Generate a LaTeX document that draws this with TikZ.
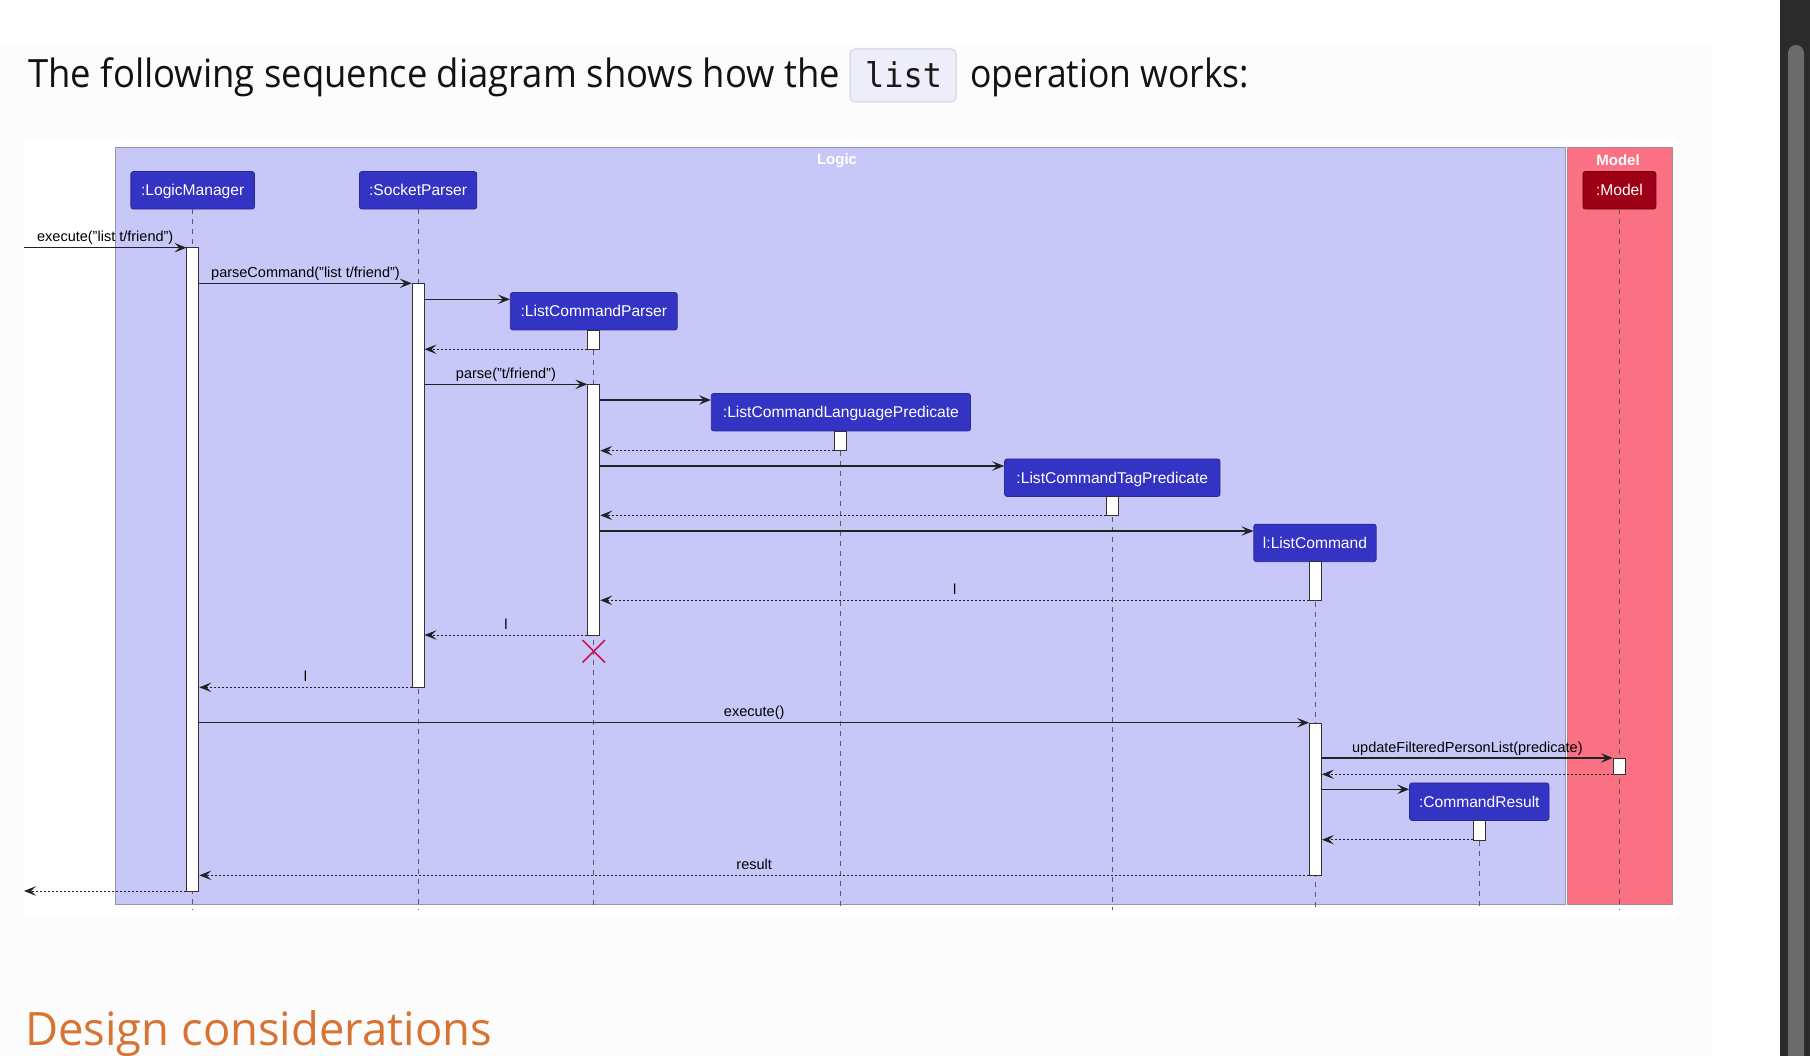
\documentclass[tikz,border=0pt]{standalone}
\usepackage{fontspec}
\setmainfont{Liberation Sans}
\newfontfamily\titlefonta[FakeStretch=0.935]{Open Sans}
\newfontfamily\titlefont[FakeStretch=0.91]{Open Sans}
\newfontfamily\headfont[FakeStretch=0.987]{Open Sans}
\newfontfamily\codefont[FakeStretch=0.94]{DejaVu Sans Mono}
\usetikzlibrary{arrows.meta}
\definecolor{logicfill}{HTML}{C8C8F8}
\definecolor{logicdraw}{HTML}{9494B0}
\definecolor{modelfill}{HTML}{FA7184}
\definecolor{modeldraw}{HTML}{A88890}
\definecolor{partfill}{HTML}{3333C4}
\definecolor{partdraw}{HTML}{2A2A9A}
\definecolor{mpartfill}{HTML}{9E0016}
\definecolor{mpartdraw}{HTML}{6A0010}
\definecolor{lifec}{HTML}{5A5A6A}
\definecolor{msgc}{HTML}{222222}
\definecolor{actdraw}{HTML}{333333}
\definecolor{xred}{HTML}{C8174F}
\definecolor{panel}{HTML}{FCFCFC}
\definecolor{sbar}{HTML}{2B2B2B}
\definecolor{sthumb}{HTML}{6B6B6B}
\definecolor{codefill}{HTML}{EEEEFA}
\definecolor{codedraw}{HTML}{DCDCEA}
\definecolor{headc}{HTML}{D97332}
\begin{document}
\begin{tikzpicture}[x=1pt,y=-1pt,
  part/.style={fill=partfill, draw=partdraw, line width=0.8pt, rounded corners=2.5pt,
    text=white, font=\fontsize{15.6}{18}\selectfont, minimum height=37.5pt, inner sep=0pt,
    text height=11.2pt, text depth=0pt},
  mpart/.style={part, fill=mpartfill, draw=mpartdraw},
  act/.style={draw=actdraw, fill=white, line width=0.9pt, minimum width=12pt, inner sep=0pt},
  life/.style={draw=lifec, line width=0.9pt, dash pattern=on 5pt off 5pt},
  msg/.style={draw=msgc, line width=1.1pt, -{Stealth[length=12pt,width=9.5pt,inset=5pt]}},
  ret/.style={msg, line width=1pt, dash pattern=on 2pt off 2pt},
  lbl/.style={midway, anchor=base, yshift=6pt, inner sep=0pt, text=black,
    font=\fontsize{14.5}{17}\selectfont},
  ftitle/.style={text=white, font=\bfseries\fontsize{15}{17}\selectfont, inner sep=0pt}
]
\useasboundingbox (0,0) rectangle (1810,1056);
% page
\fill[white] (0,0) rectangle (1810,1056);
\fill[panel] (0,43) rectangle (1712,1056);
\fill[white] (24,140) rectangle (1677,917);
% scrollbar
\fill[sbar] (1780,0) rectangle (1810,1056);
\fill[sthumb, rounded corners=8pt] (1788,45) rectangle (1804,1080);
% heading
\node[anchor=base west, inner sep=0pt, font=\titlefonta\fontsize{39}{46}\selectfont, text=black!93] (t1) at (28,88) {The following sequence diagram shows how the};
\node[draw=codedraw, fill=codefill, line width=1.5pt, rounded corners=5pt, minimum width=106pt, minimum height=53pt, inner sep=0pt] (code) at (903,75.5) {};
\node[anchor=base west, inner sep=0pt, font=\codefont\fontsize{34}{40}\selectfont, text=black!90] (codet) at (865,88) {list};
\node[anchor=base west, inner sep=0pt, font=\titlefont\fontsize{39}{46}\selectfont, text=black!93] (t2) at (970,88) {operation works:};
\node[anchor=base west, inner sep=0pt, font=\headfont\fontsize{46}{54}\selectfont, text=headc] (design) at (25,1045) {Design considerations};
% frames
\draw[fill=logicfill, draw=logicdraw, line width=1pt] (115.5,147.7) rectangle (1565,904.5);
\draw[fill=modelfill, draw=modeldraw, line width=1pt] (1567,147.7) rectangle (1672,904.5);
\node[ftitle] (logict) at (837,161) {Logic};
\node[ftitle] (modelt) at (1618,160) {Model};
% participants
\node[part, minimum width=123.7pt] (lm) at (192.7,190.3) {:LogicManager};
\node[part, minimum width=117.4pt] (sp) at (418.1,190.3) {:SocketParser};
\node[part, minimum width=167pt] (lcp) at (593.8,311.2) {:ListCommandParser};
\node[part, minimum width=259.3pt] (lclp) at (840.9,412.2) {:ListCommandLanguagePredicate};
\node[part, minimum width=215.5pt] (lctp) at (1112.3,477.7) {:ListCommandTagPredicate};
\node[part, minimum width=122.4pt] (lc) at (1315,542.9) {l:ListCommand};
\node[mpart, minimum width=73pt] (model) at (1619.4,190.3) {:Model};
\node[part, minimum width=139.4pt] (cr) at (1479.3,801.7) {:CommandResult};
% lifelines
\foreach \p in {lm,sp,lcp,lclp,lctp,lc,model,cr}
  \draw[life] (\p.south) -- (\p.south |- 0,910);
% activations
\node[act, minimum height=643.3pt] (lmA) at (192.9,569.35) {};
\node[act, minimum height=404pt] (spA) at (418.1,485.3) {};
\node[act, minimum height=19.3pt] (lcpA1) at (593.8,339.65) {};
\node[act, minimum height=250.7pt] (lcpA2) at (593.8,509.65) {};
\node[act, minimum height=19.7pt] (lclpA) at (840.9,440.85) {};
\node[act, minimum height=19.3pt] (lctpA) at (1112.6,505.65) {};
\node[act, minimum height=38.6pt] (lcA1) at (1315.5,581) {};
\node[act, minimum height=152pt] (lcA2) at (1315.5,799) {};
\node[act, minimum height=16.3pt] (modelA) at (1619.3,766.15) {};
\node[act, minimum height=19.3pt] (crA) at (1479.3,830.35) {};
% destroy mark
\node[inner sep=0pt, minimum size=22pt] (xmark) at (593.8,651.3) {};
\draw[xred, line width=1.6pt] (xmark.north west) -- (xmark.south east) (xmark.north east) -- (xmark.south west);
% messages
\coordinate (in) at (24,247.7);
\coordinate (out) at (24,891);
\draw[msg] (in) -- node[lbl] {execute("list t/friend")} (lmA.west |- in);
\draw[msg] (lmA.east |- 0,283.3) -- node[lbl] {parseCommand("list t/friend")} (spA.west |- 0,283.3);
\draw[msg] (spA.east |- 0,299.3) -- (lcp.west |- 0,299.3);
\draw[ret] (lcpA1.west |- 0,349.3) -- (spA.east |- 0,349.3);
\draw[msg] (spA.east |- 0,384.3) -- node[lbl] {parse("t/friend")} (lcpA2.west |- 0,384.3);
\draw[msg] (lcpA2.east |- 0,400) -- (lclp.west |- 0,400);
\draw[ret] (lclpA.west |- 0,450.7) -- (lcpA2.east |- 0,450.7);
\draw[msg] (lcpA2.east |- 0,466) -- (lctp.west |- 0,466);
\draw[ret] (lctpA.west |- 0,515.3) -- (lcpA2.east |- 0,515.3);
\draw[msg] (lcpA2.east |- 0,531) -- (lc.west |- 0,531);
\draw[ret] (lcA1.west |- 0,600.3) -- node[lbl] {l} (lcpA2.east |- 0,600.3);
\draw[ret] (lcpA2.west |- 0,635) -- node[lbl] {l} (spA.east |- 0,635);
\draw[ret] (spA.west |- 0,687.3) -- node[lbl] {l} (lmA.east |- 0,687.3);
\draw[msg] (lmA.east |- 0,722.7) -- node[lbl] {execute()} (lcA2.west |- 0,722.7);
\draw[msg] (lcA2.east |- 0,758) -- node[lbl] {updateFilteredPersonList(predicate)} (modelA.west |- 0,758);
\draw[ret] (modelA.west |- 0,774.3) -- (lcA2.east |- 0,774.3);
\draw[msg] (lcA2.east |- 0,789.3) -- (cr.west |- 0,789.3);
\draw[ret] (crA.west |- 0,839.7) -- (lcA2.east |- 0,839.7);
\draw[ret] (lcA2.west |- 0,875.3) -- node[lbl] {result} (lmA.east |- 0,875.3);
\draw[ret] (lmA.west |- out) -- (out);
\end{tikzpicture}
\end{document}
